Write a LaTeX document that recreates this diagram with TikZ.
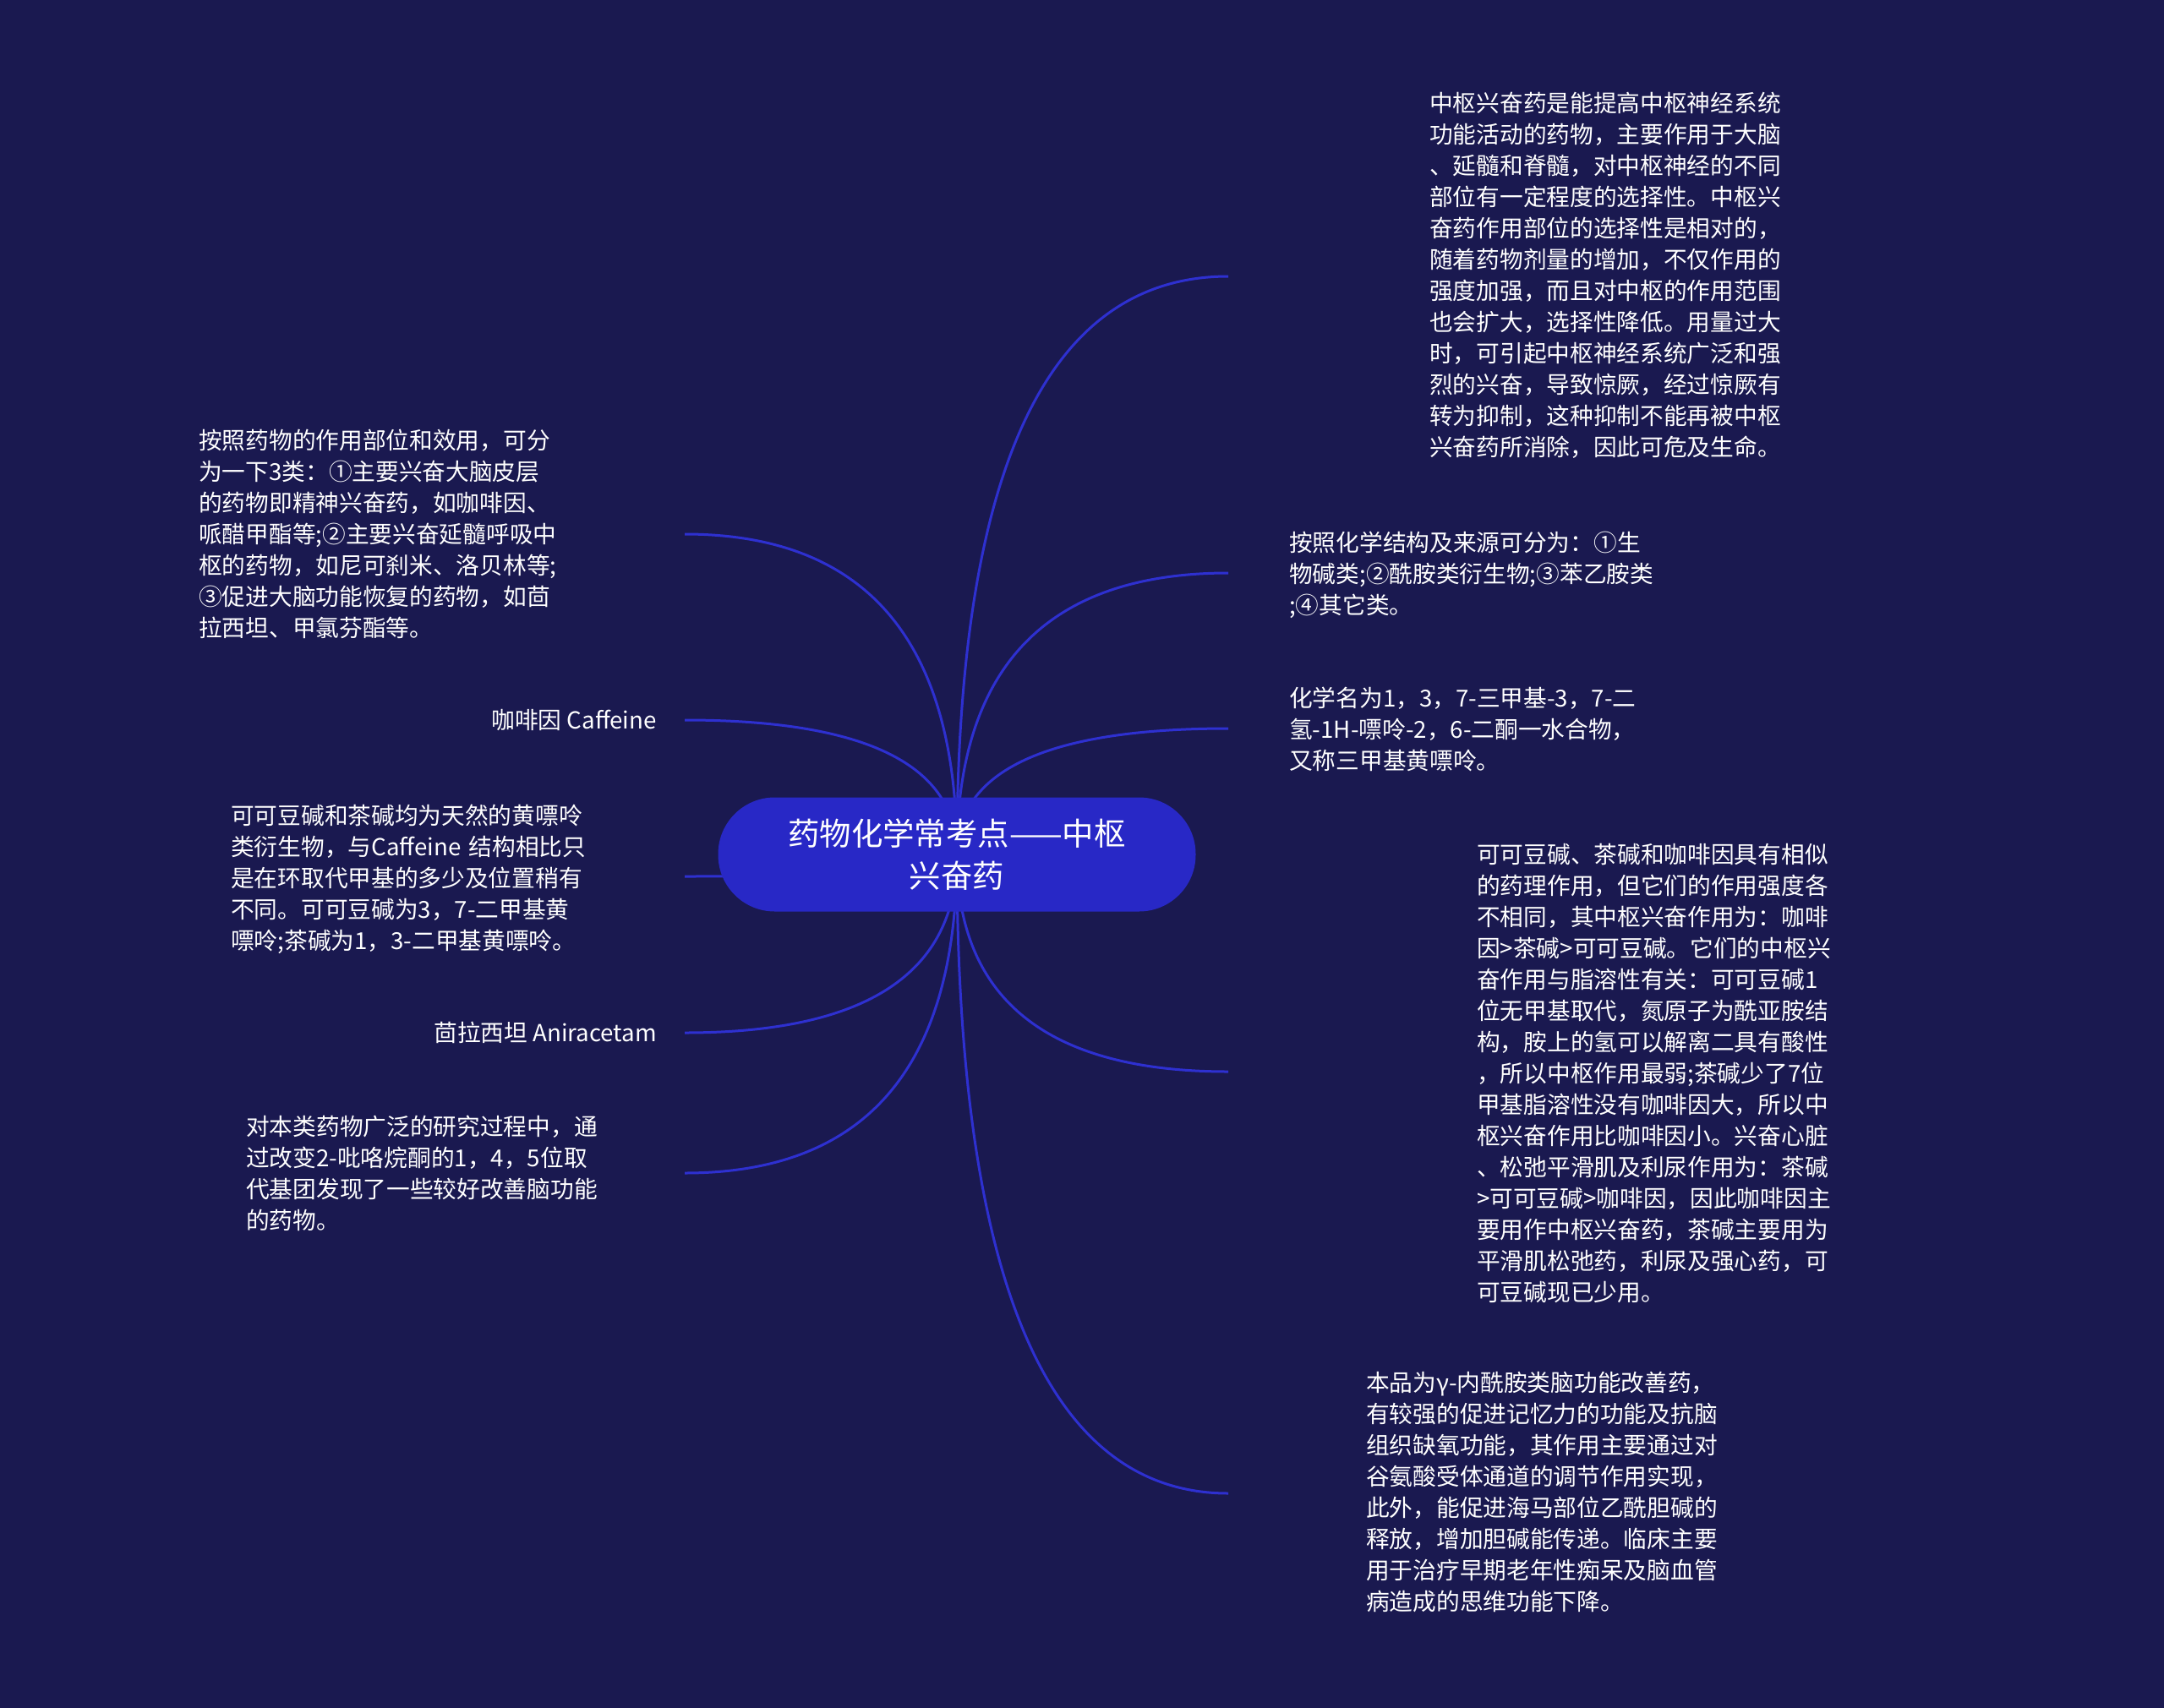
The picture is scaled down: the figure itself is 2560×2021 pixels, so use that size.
\documentclass[tikz,border=0pt]{standalone}
\usepackage{fontspec}
\setmainfont{Noto Sans CJK SC}
\usetikzlibrary{calc}
\definecolor{bgc}{HTML}{1A1950}
\definecolor{linec}{HTML}{2E30D0}
\definecolor{hubc}{HTML}{2828C6}
\pgfdeclarelayer{bglayer}
\pgfdeclarelayer{edgelayer}
\pgfsetlayers{bglayer,edgelayer,main}
\tikzset{
  leaf/.style={text=white, inner sep=0pt, align=left, text width=480pt, font=\fontsize{27.7pt}{37pt}\selectfont},
  tag/.style={text=white, inner sep=0pt, font=\fontsize{27.7pt}{37pt}\selectfont},
  link/.style={draw=linec, line width=3pt},
  hub/.style={fill=hubc, text=white, rounded corners=67pt, minimum width=565pt, minimum height=135pt, inner sep=0pt, align=center, font=\fontsize{37.4pt}{50pt}\selectfont}
}
\begin{document}
\begin{tikzpicture}[x=1pt,y=-1pt]
\useasboundingbox (0,0) rectangle (2560,2021);
\begin{pgfonlayer}{bglayer}
\fill[bgc] (0,0) rectangle (2560,2021);
\end{pgfonlayer}

\node[hub] (hub) at (1132,1011) {药物化学常考点——中枢\\兴奋药};

% connector ends
\coordinate (r1e) at (1453,327);
\coordinate (r2e) at (1453,678);
\coordinate (r3e) at (1453,862);
\coordinate (r4e) at (1453,1268);
\coordinate (r5e) at (1453,1767);
\coordinate (l1e) at (810,632);
\coordinate (l2e) at (810,852);
\coordinate (l3e) at (810,1037);
\coordinate (l4e) at (810,1222);
\coordinate (l5e) at (810,1388);

% right texts
\node[leaf, anchor=base west] (r1) at (1691,132.5) {中枢兴奋药是能提高中枢神经系统\\功能活动的药物，主要作用于大脑\\、延髓和脊髓，对中枢神经的不同\\部位有一定程度的选择性。中枢兴\\奋药作用部位的选择性是相对的，\\随着药物剂量的增加，不仅作用的\\强度加强，而且对中枢的作用范围\\也会扩大，选择性降低。用量过大\\时，可引起中枢神经系统广泛和强\\烈的兴奋，导致惊厥，经过惊厥有\\转为抑制，这种抑制不能再被中枢\\兴奋药所消除，因此可危及生命。};
\node[leaf, anchor=base west] (r2) at (1525,652.5) {按照化学结构及来源可分为：①生\\物碱类;②酰胺类衍生物;③苯乙胺类\\;④其它类。};
\node[leaf, anchor=base west] (r3) at (1525,836.5) {化学名为1，3，7-三甲基-3，7-二\\氢-1H-嘌呤-2，6-二酮一水合物，\\又称三甲基黄嘌呤。};
\node[leaf, anchor=base west] (r4) at (1747,1021.5) {可可豆碱、茶碱和咖啡因具有相似\\的药理作用，但它们的作用强度各\\不相同，其中枢兴奋作用为：咖啡\\因>茶碱>可可豆碱。它们的中枢兴\\奋作用与脂溶性有关：可可豆碱1\\位无甲基取代，氮原子为酰亚胺结\\构，胺上的氢可以解离二具有酸性\\，所以中枢作用最弱;茶碱少了7位\\甲基脂溶性没有咖啡因大，所以中\\枢兴奋作用比咖啡因小。兴奋心脏\\、松弛平滑肌及利尿作用为：茶碱\\>可可豆碱>咖啡因，因此咖啡因主\\要用作中枢兴奋药，茶碱主要用为\\平滑肌松弛药，利尿及强心药，可\\可豆碱现已少用。};
\node[leaf, anchor=base west] (r5) at (1616,1646.5) {本品为γ-内酰胺类脑功能改善药，\\有较强的促进记忆力的功能及抗脑\\组织缺氧功能，其作用主要通过对\\谷氨酸受体通道的调节作用实现，\\此外，能促进海马部位乙酰胆碱的\\释放，增加胆碱能传递。临床主要\\用于治疗早期老年性痴呆及脑血管\\病造成的思维功能下降。};

% left texts
\node[leaf, anchor=base west] (l1) at (235,531.5) {按照药物的作用部位和效用，可分\\为一下3类：①主要兴奋大脑皮层\\的药物即精神兴奋药，如咖啡因、\\哌醋甲酯等;②主要兴奋延髓呼吸中\\枢的药物，如尼可刹米、洛贝林等;\\③促进大脑功能恢复的药物，如茴\\拉西坦、甲氯芬酯等。};
\node[tag, anchor=base east] (l2) at (777,862.5) {咖啡因 Caffeine};
\node[leaf, anchor=base west] (l3) at (273,975.5) {可可豆碱和茶碱均为天然的黄嘌呤\\类衍生物，与Caffeine 结构相比只\\是在环取代甲基的多少及位置稍有\\不同。可可豆碱为3，7-二甲基黄\\嘌呤;茶碱为1，3-二甲基黄嘌呤。};
\node[tag, anchor=base east] (l4) at (777,1232) {茴拉西坦 Aniracetam};
\node[leaf, anchor=base west] (l5) at (291,1343) {对本类药物广泛的研究过程中，通\\过改变2-吡咯烷酮的1，4，5位取\\代基团发现了一些较好改善脑功能\\的药物。};

\begin{pgfonlayer}{edgelayer}
\foreach \e in {r1e,r2e,r3e,r4e,r5e,l1e,l2e,l3e,l4e,l5e}
  \draw[link] (hub.center) .. controls ($(hub.center)!0.667!(hub.center |- \e)$) and ($(\e)!0.667!(hub.center |- \e)$) .. (\e);
\end{pgfonlayer}
\end{tikzpicture}
\end{document}
